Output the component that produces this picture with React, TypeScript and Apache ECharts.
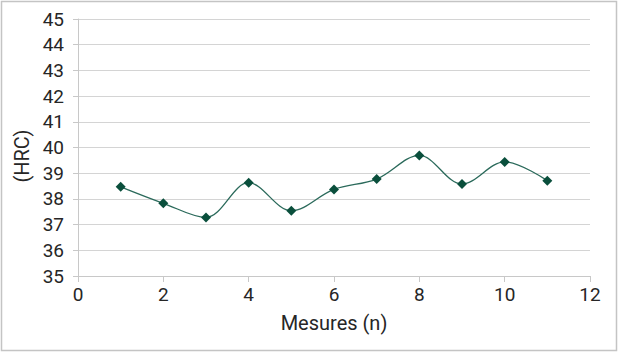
import React, { useEffect, useRef } from "react";
import * as echarts from "echarts";

const measures = [1, 2, 3, 4, 5, 6, 7, 8, 9, 10, 11];
const hrcValues = [38.47, 37.83, 37.28, 38.63, 37.54, 38.37, 38.77, 39.69, 38.58, 39.44, 38.71];
const xTitle = "Mesures (n)";
const yTitle = "(HRC)";

export default function App() {
  const ref = useRef<HTMLDivElement>(null);
  useEffect(() => {
    document.body.style.margin = "0";
    const chart = echarts.init(ref.current!, undefined, { renderer: "svg" });
    const font = "Roboto, 'DejaVu Sans', sans-serif";
    chart.setOption({
      animation: false,
      backgroundColor: "#ffffff",
      grid: { left: 78, right: 28, top: 19, bottom: 77, containLabel: false },
      xAxis: {
        type: "value",
        min: 0,
        max: 12,
        interval: 2,
        name: xTitle,
        nameLocation: "middle",
        nameGap: 37,
        nameTextStyle: { fontFamily: font, fontSize: 20, color: "#262626" },
        axisLine: { show: true, lineStyle: { color: "#c8c8c8", width: 1 } },
        axisTick: { show: true, length: 6, lineStyle: { color: "#c8c8c8" } },
        axisLabel: { fontFamily: font, fontSize: 19, color: "#262626", margin: 9 },
        splitLine: { show: false },
      },
      yAxis: {
        type: "value",
        min: 35,
        max: 45,
        interval: 1,
        axisLine: { show: true, lineStyle: { color: "#c8c8c8", width: 1 } },
        axisTick: { show: true, length: 5, lineStyle: { color: "#c8c8c8" } },
        axisLabel: { fontFamily: font, fontSize: 19, color: "#262626", margin: 14 },
        splitLine: { show: true, lineStyle: { color: "#d4d4d4", width: 1 } },
      },
      graphic: [
        {
          type: "rect",
          shape: { x: 1.5, y: 1.5, width: 615, height: 349 },
          style: { fill: "none", stroke: "#c4c4c4", lineWidth: 1.5 },
          silent: true,
        },
        {
          type: "text",
          x: 22,
          y: 156,
          rotation: Math.PI / 2,
          style: {
            text: yTitle,
            fontFamily: font,
            fontSize: 20,
            fill: "#262626",
            textAlign: "center",
            textVerticalAlign: "middle",
          },
        },
      ],
      series: [
        {
          type: "line",
          data: measures.map((m, i) => [m, hrcValues[i]]),
          smooth: 0.35,
          symbol: "diamond",
          symbolSize: 10,
          lineStyle: { color: "#2b6a5b", width: 1.3 },
          itemStyle: { color: "#0a4f3c" },
        },
      ],
    });
    return () => chart.dispose();
  }, []);
  return <div ref={ref} style={{ width: 618, height: 353 }} />;
}
